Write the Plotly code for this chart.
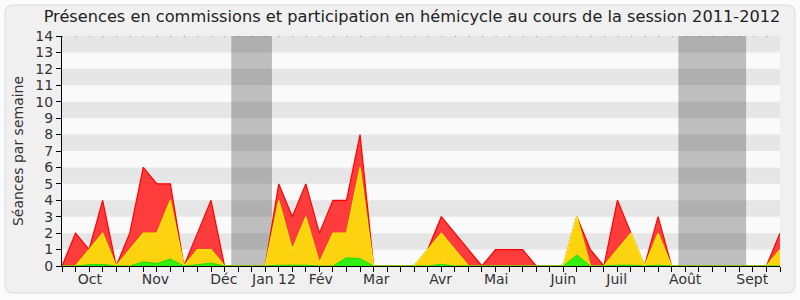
import plotly.graph_objects as go

# ---- data (weekly values, week index 0..53) ----
weeks = list(range(54))
presence_red = [0, 2, 1, 4, 0, 2, 6, 5, 5, 0, 2, 4, 0, 0, 0, 0, 5, 3, 5, 2,
                4, 4, 8, 0, 0, 0, 0, 1, 3, 2, 1, 0, 1, 1, 1, 0, 0, 0, 3, 1,
                0, 4, 2, 0, 3, 0, 0, 0, 0, 0, 0, 0, 0, 2]
presence_yellow = [0, 0, 1, 2, 0, 1, 2, 2, 4, 0, 1, 1, 0, 0, 0, 0, 4, 1, 3, 0.2,
                   2, 2, 6, 0, 0, 0, 0, 1, 2, 1, 0, 0, 0, 0, 0, 0, 0, 0, 3, 0,
                   0, 1, 2, 0, 2, 0, 0, 0, 0, 0, 0, 0, 0, 1]
presence_green = [0, 0, 0.08, 0.1, 0, 0, 0.25, 0.15, 0.42, 0, 0.08, 0.18, 0, 0, 0, 0, 0.05, 0.05, 0.05, 0,
                  0, 0.5, 0.45, 0, 0, 0, 0, 0, 0.1, 0, 0, 0, 0, 0, 0, 0, 0, 0, 0.67, 0,
                  0, 0.05, 0.05, 0, 0.05, 0, 0, 0, 0, 0, 0, 0, 0, 0]
month_pos = [2.05, 6.9, 11.95, 15.65, 19.1, 23.2, 27.95, 32.05, 37.0, 40.95, 46.0, 50.95]
month_labels = ["Oct", "Nov", "Déc", "Jan 12", "Fév", "Mar", "Avr", "Mai", "Juin", "Juil", "Août", "Sept"]
vacations = [(12.5, 15.5), (45.5, 50.5)]
y_max = 14

W, H = 800, 300
ML, MR, MT, MB = 62, 20, 36, 34
pw, ph = W - ML - MR, H - MT - MB

def px(x):
    return (x - ML) / pw

def py(y):
    return (H - MB - y) / ph

fig = go.Figure()
fig.add_trace(go.Scatter(x=weeks, y=presence_red, mode="lines", fill="tozeroy",
                         line=dict(color="#ff0000", width=1.2), fillcolor="#ff3c3c",
                         hoverinfo="skip", showlegend=False))
fig.add_trace(go.Scatter(x=weeks, y=presence_yellow, mode="lines", fill="tozeroy",
                         line=dict(color="#ffee00", width=1.2), fillcolor="#fdd20e",
                         hoverinfo="skip", showlegend=False))
fig.add_trace(go.Scatter(x=weeks, y=presence_green, mode="lines", fill="tozeroy",
                         line=dict(color="#22dd00", width=1), fillcolor="#33ee11",
                         hoverinfo="skip", showlegend=False))

shapes = []
# rounded outer frame
x0, x1, y0, y1, r = px(5), px(795), py(5), py(293), 8
rx, ry = r / pw, r / ph
path = (f"M {x0+rx},{y0} L {x1-rx},{y0} Q {x1},{y0} {x1},{y0-ry} "
        f"L {x1},{y1+ry} Q {x1},{y1} {x1-rx},{y1} L {x0+rx},{y1} "
        f"Q {x0},{y1} {x0},{y1+ry} L {x0},{y0-ry} Q {x0},{y0} {x0+rx},{y0} Z")
shapes.append(dict(type="path", path=path, xref="paper", yref="paper",
                   fillcolor="#f0f0f0", line=dict(color="#dadada", width=1), layer="below"))
# plot background
shapes.append(dict(type="rect", xref="x", yref="y", x0=0, x1=53, y0=0, y1=y_max,
                   fillcolor="#fafafa", line=dict(width=0), layer="below"))
# alternating bands
for k in range(y_max // 2):
    shapes.append(dict(type="rect", xref="x", yref="y", x0=0, x1=53, y0=2 * k + 1, y1=2 * k + 2,
                       fillcolor="#e6e6e6", line=dict(width=0), layer="below"))
# vacations
for a, b in vacations:
    shapes.append(dict(type="rect", xref="x", yref="y", x0=a, x1=b, y0=0, y1=y_max,
                       fillcolor="rgba(10,10,10,0.25)", line=dict(width=0), layer="below"))
# dotted top line
shapes.append(dict(type="line", xref="x", yref="y", x0=0, x1=53, y0=y_max, y1=y_max,
                   line=dict(color="#444", width=1, dash="1px,12.55px"), layer="above"))

fig.update_layout(
    width=W, height=H,
    margin=dict(l=ML, r=MR, t=MT, b=MB),
    paper_bgcolor="#fbfbfb",
    plot_bgcolor="rgba(0,0,0,0)",
    shapes=shapes,
    title=dict(text="Présences en commissions et participation en hémicycle au cours de la session 2011-2012",
               x=412 / W, xref="container", xanchor="center", y=1 - 16 / H, yanchor="middle",
               font=dict(family="DejaVu Sans", size=16.2, color="#222")),
    font=dict(family="DejaVu Sans", size=14, color="#333"),
    xaxis=dict(range=[0, 53], tickvals=month_pos, ticktext=month_labels, ticks="",
               ticklen=0, showgrid=False, zeroline=False, showline=True, linecolor="#000",
               linewidth=1, tickfont=dict(size=14, color="#333"),
               minor=dict(tickvals=weeks, ticks="outside", ticklen=5, tickcolor="#000", showgrid=False)),
    yaxis=dict(range=[0, y_max], tickvals=list(range(0, y_max + 1)), ticks="outside", ticklen=5,
               tickcolor="#000", showgrid=False, zeroline=False, showline=True, linecolor="#000",
               linewidth=1, tickfont=dict(size=14, color="#333"),
               title=dict(text="Séances par semaine", standoff=8, font=dict(size=14, color="#333"))),
)

fig.write_html("out.html")
